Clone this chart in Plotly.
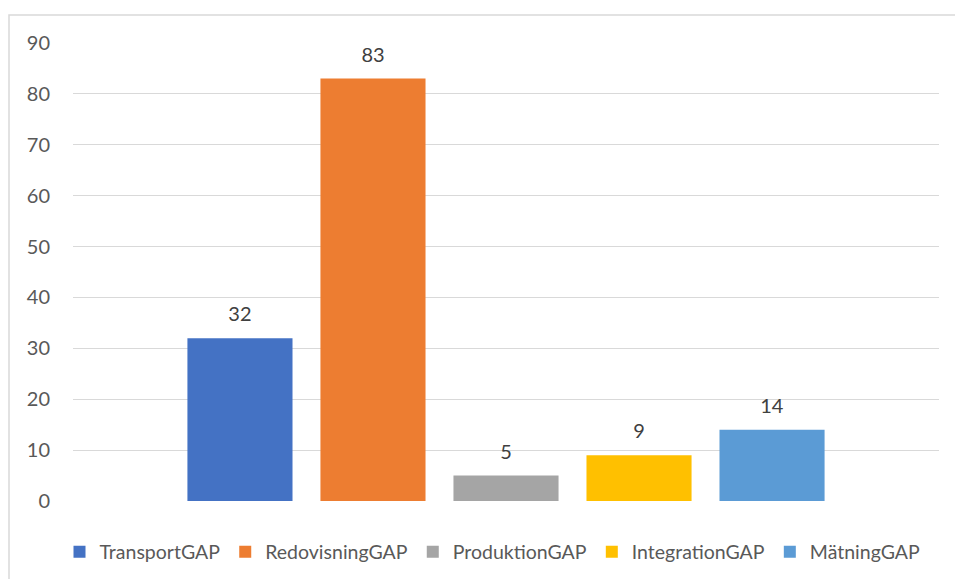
import plotly.graph_objects as go

series = ["TransportGAP", "RedovisningGAP", "ProduktionGAP", "IntegrationGAP", "MätningGAP"]
values = [32, 83, 5, 9, 14]
colors = ["#4472C4", "#ED7D31", "#A5A5A5", "#FFC000", "#5B9BD5"]
category = [""]
yticks = [0, 10, 20, 30, 40, 50, 60, 70, 80, 90]

FONT = "Lato, 'Open Sans', sans-serif"

fig = go.Figure()
for name, v, c in zip(series, values, colors):
    fig.add_trace(go.Bar(
        name=name, x=category, y=[v], marker=dict(color=c, line=dict(width=0)),
        text=[f"<span style='font-size:20px'>{v}</span><br> "], textposition="outside",
        textfont=dict(size=9, color="#404040", family=FONT), cliponaxis=False,
    ))

W, H = 955, 579
L, R, T, B = 73, 16, 43, 78
pw, ph = W - L - R, H - T - B

fig.update_layout(
    width=W, height=H, margin=dict(l=L, r=R, t=T, b=B, autoexpand=False),
    paper_bgcolor="white", plot_bgcolor="white",
    barmode="group", bargap=0.232, bargroupgap=0.21,
    font=dict(family=FONT, color="#595959", size=20),
    showlegend=True,
    legend=dict(orientation="h", x=(492.5 - L) / pw, xanchor="center",
                y=-51 / ph, yanchor="middle", font=dict(size=19.5, color="#595959"),
                itemwidth=30, traceorder="normal"),
    xaxis=dict(showticklabels=False, showgrid=False, zeroline=False, showline=False, ticks=""),
    yaxis=dict(range=[0, 90], tickvals=yticks, showgrid=True, gridcolor="#D9D9D9", gridwidth=1,
               zeroline=False, showline=False, ticks="", ticklabelstandoff=22,
               tickfont=dict(size=20, color="#595959")),
    shapes=[dict(type="rect", xref="paper", yref="paper",
                 x0=(9 - L) / pw, x1=(957 - L) / pw, y0=(501 - 600) / ph, y1=(501 - 15) / ph,
                 line=dict(color="#D9D9D9", width=1.5), fillcolor="rgba(0,0,0,0)", layer="below")],
)

fig.write_html("out.html", config={"displayModeBar": False},
               post_script="document.body.style.margin='0';document.body.style.overflow='hidden';")
